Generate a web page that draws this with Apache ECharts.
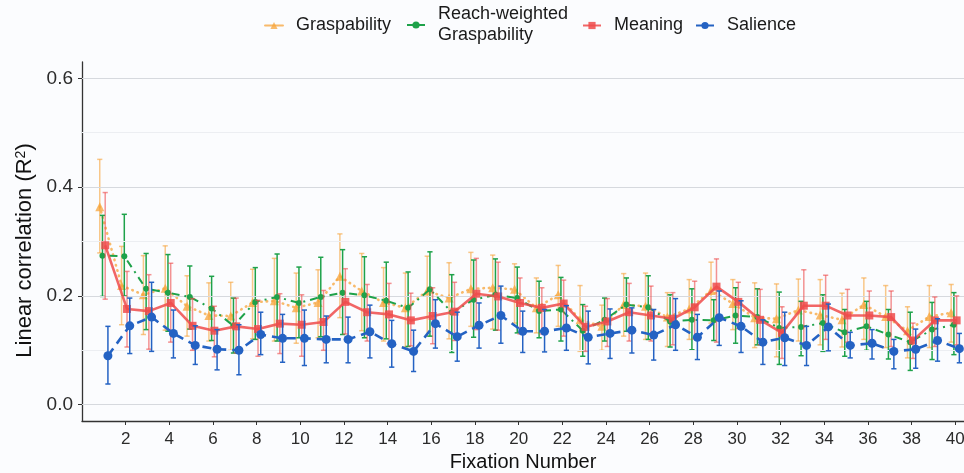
<!DOCTYPE html>
<html>
<head>
<meta charset="utf-8">
<script src="https://cdn.jsdelivr.net/npm/echarts@6/dist/echarts.min.js"></script>
<style>
  html, body { margin: 0; padding: 0; background: #fbfcfe; }
  #chart { width: 964px; height: 473px; }
</style>
</head>
<body>
<div id="chart"></div>
<script>
// Fixation index (x axis)
const fixation = [1,2,3,4,5,6,7,8,9,10,11,12,13,14,15,16,17,18,19,20,
                  21,22,23,24,25,26,27,28,29,30,31,32,33,34,35,36,37,38,39,40];

// Graspability: mean R² with lower / upper error bounds
const graspMean = [0.364,0.219,0.202,0.214,0.181,0.164,0.163,0.188,0.191,0.178,
                   0.188,0.236,0.209,0.188,0.178,0.209,0.196,0.213,0.215,0.212,
                   0.178,0.202,0.156,0.144,0.184,0.181,0.161,0.176,0.210,0.186,
                   0.160,0.158,0.174,0.165,0.156,0.184,0.162,0.136,0.162,0.169];
const graspLow  = [0.279,0.147,0.129,0.137,0.126,0.117,0.100,0.121,0.117,0.113,
                   0.123,0.160,0.136,0.117,0.106,0.126,0.121,0.144,0.139,0.150,
                   0.132,0.144,0.098,0.100,0.126,0.120,0.107,0.120,0.150,0.138,
                   0.105,0.088,0.117,0.110,0.106,0.120,0.105,0.086,0.105,0.115];
const graspHigh = [0.451,0.291,0.274,0.292,0.237,0.224,0.225,0.249,0.269,0.242,
                   0.248,0.314,0.278,0.252,0.242,0.273,0.261,0.280,0.275,0.259,
                   0.233,0.256,0.219,0.183,0.241,0.242,0.206,0.230,0.262,0.230,
                   0.224,0.222,0.231,0.230,0.205,0.233,0.219,0.180,0.219,0.221];

// Reach-weighted graspability
const reachMean = [0.274,0.273,0.213,0.206,0.198,0.177,0.145,0.189,0.198,0.187,
                   0.198,0.206,0.201,0.191,0.178,0.212,0.170,0.193,0.202,0.196,
                   0.172,0.175,0.136,0.156,0.184,0.179,0.153,0.156,0.155,0.164,
                   0.161,0.141,0.143,0.150,0.133,0.144,0.129,0.115,0.138,0.147];
const reachLow  = [0.199,0.200,0.138,0.135,0.139,0.118,0.095,0.120,0.117,0.123,
                   0.125,0.129,0.123,0.121,0.107,0.126,0.096,0.124,0.137,0.132,
                   0.123,0.117,0.089,0.117,0.135,0.120,0.106,0.101,0.118,0.113,
                   0.110,0.074,0.090,0.098,0.089,0.100,0.084,0.063,0.083,0.092];
const reachHigh = [0.348,0.350,0.278,0.276,0.255,0.236,0.196,0.252,0.277,0.253,
                   0.271,0.285,0.272,0.262,0.244,0.281,0.239,0.266,0.268,0.253,
                   0.227,0.234,0.184,0.196,0.233,0.237,0.202,0.213,0.193,0.215,
                   0.213,0.207,0.190,0.202,0.175,0.190,0.175,0.170,0.188,0.206];

// Meaning
const meaningMean = [0.293,0.176,0.172,0.187,0.145,0.136,0.144,0.139,0.149,0.147,
                     0.152,0.189,0.170,0.166,0.155,0.163,0.171,0.204,0.199,0.187,
                     0.178,0.186,0.143,0.153,0.170,0.164,0.158,0.179,0.217,0.189,
                     0.156,0.132,0.182,0.182,0.164,0.164,0.161,0.118,0.155,0.155];
const meaningLow  = [0.194,0.106,0.102,0.115,0.100,0.088,0.095,0.089,0.094,0.089,
                     0.100,0.130,0.117,0.112,0.108,0.112,0.118,0.138,0.137,0.130,
                     0.130,0.126,0.098,0.107,0.117,0.117,0.110,0.121,0.115,0.140,
                     0.110,0.085,0.113,0.120,0.115,0.115,0.107,0.085,0.107,0.110];
const meaningHigh = [0.390,0.245,0.239,0.260,0.195,0.181,0.196,0.192,0.204,0.202,
                     0.210,0.250,0.221,0.223,0.205,0.215,0.225,0.269,0.262,0.233,
                     0.215,0.229,0.181,0.195,0.223,0.218,0.206,0.227,0.268,0.225,
                     0.212,0.180,0.248,0.238,0.212,0.209,0.209,0.150,0.198,0.200];

// Salience
const salienceMean = [0.090,0.145,0.161,0.131,0.109,0.102,0.100,0.129,0.122,0.122,
                      0.120,0.120,0.134,0.112,0.098,0.149,0.125,0.146,0.164,0.135,
                      0.135,0.141,0.124,0.131,0.137,0.128,0.147,0.124,0.160,0.144,
                      0.115,0.123,0.109,0.143,0.109,0.113,0.098,0.102,0.118,0.103];
const salienceLow  = [0.038,0.094,0.098,0.086,0.074,0.064,0.055,0.092,0.078,0.072,
                      0.077,0.077,0.086,0.069,0.061,0.104,0.080,0.104,0.113,0.096,
                      0.097,0.100,0.075,0.085,0.095,0.082,0.100,0.083,0.109,0.096,
                      0.074,0.072,0.072,0.099,0.086,0.084,0.066,0.067,0.080,0.077];
const salienceHigh = [0.144,0.196,0.225,0.174,0.145,0.138,0.147,0.170,0.166,0.174,
                      0.163,0.161,0.183,0.155,0.137,0.193,0.170,0.187,0.218,0.172,
                      0.175,0.182,0.172,0.176,0.178,0.175,0.195,0.166,0.209,0.191,
                      0.156,0.170,0.144,0.185,0.133,0.138,0.120,0.139,0.158,0.131];

// Axis ticks and grid levels
const xTicks = [2,4,6,8,10,12,14,16,18,20,22,24,26,28,30,32,34,36,38,40];
const yTicks = [0, 0.2, 0.4, 0.6];
const yMinorGrid = [0.1, 0.3, 0.5];

const FONT = '"Liberation Sans", Arial, sans-serif';

// Style and dodge settings per measure
const measures = [
  { name: 'Graspability', mean: graspMean, low: graspLow, high: graspHigh,
    color: '#f7a43a', barColor: '#f7a43a', barOpacity: 0.6, offset: -0.1875,
    symbol: 'triangle', size: 9, lineType: [0.5, 5], lineWidth: 2.6, cap: 'round', lineOpacity: 0.75 },
  { name: 'Reach-weighted\nGraspability', mean: reachMean, low: reachLow, high: reachHigh,
    color: '#1ea24a', barColor: '#1ea24a', barOpacity: 1, offset: -0.0625,
    symbol: 'circle', size: 6, lineType: [2, 5, 8, 5], lineWidth: 2, cap: 'butt', lineOpacity: 1 },
  { name: 'Meaning', mean: meaningMean, low: meaningLow, high: meaningHigh,
    color: '#ee4b4b', barColor: '#ee4b4b', barOpacity: 0.6, offset: 0.0625,
    symbol: 'rect', size: 8, lineType: 'solid', lineWidth: 2.6, cap: 'butt', lineOpacity: 0.85 },
  { name: 'Salience', mean: salienceMean, low: salienceLow, high: salienceHigh,
    color: '#2462c3', barColor: '#2462c3', barOpacity: 1, offset: 0.1875,
    symbol: 'circle', size: 9, lineType: [9, 6], lineWidth: 2.6, cap: 'butt', lineOpacity: 1 }
];

function errorBars(m, z) {
  return {
    type: 'custom',
    name: m.name + ' interval',
    silent: true,
    z: z,
    animation: false,
    data: fixation.map((f, i) => [f + m.offset, m.low[i], m.high[i]]),
    encode: { x: 0, y: [1, 2] },
    renderItem(params, api) {
      const x = api.value(0);
      const top = api.coord([x, api.value(2)]);
      const bot = api.coord([x, api.value(1)]);
      const hw = 2.6;
      const style = { stroke: m.barColor, lineWidth: 1.5, opacity: m.barOpacity };
      return {
        type: 'group',
        children: [
          { type: 'line', shape: { x1: top[0], y1: top[1], x2: bot[0], y2: bot[1] }, style },
          { type: 'line', shape: { x1: top[0] - hw, y1: top[1], x2: top[0] + hw, y2: top[1] }, style },
          { type: 'line', shape: { x1: bot[0] - hw, y1: bot[1], x2: bot[0] + hw, y2: bot[1] }, style }
        ]
      };
    }
  };
}

function meanLine(m, z) {
  return {
    type: 'line',
    name: m.name,
    z: z,
    animation: false,
    silent: true,
    data: fixation.map((f, i) => [f + m.offset, m.mean[i]]),
    symbol: m.symbol,
    symbolSize: m.size,
    showSymbol: true,
    itemStyle: { color: m.color, opacity: m.lineOpacity },
    lineStyle: { color: m.color, width: m.lineWidth, type: m.lineType, cap: m.cap, opacity: m.lineOpacity }
  };
}

// Horizontal reference lines behind the data
const gridSeries = {
  type: 'line',
  name: 'grid',
  z: 1,
  silent: true,
  animation: false,
  data: [[1, 0]],
  showSymbol: false,
  lineStyle: { width: 0 },
  markLine: {
    silent: true,
    symbol: 'none',
    animation: false,
    label: { show: false },
    data: [
      ...yTicks.map(v => ({ yAxis: v, lineStyle: { color: '#d6d9de', width: 1.2, type: 'solid' } })),
      ...yMinorGrid.map(v => ({ yAxis: v, lineStyle: { color: '#eceef2', width: 1, type: 'solid' } }))
    ]
  }
};

const series = [gridSeries];
measures.forEach((m, k) => {
  series.push(errorBars(m, 2 + k * 2));
  series.push(meanLine(m, 3 + k * 2));
});

// One legend per entry so each sits where it should
const legendSpots = [
  { name: 'Graspability', left: 264, top: 15 },
  { name: 'Reach-weighted\nGraspability', left: 406, top: 4 },
  { name: 'Meaning', left: 582, top: 15 },
  { name: 'Salience', left: 695, top: 15 }
];
const legends = legendSpots.map(s => ({
  data: [s.name],
  left: s.left,
  top: s.top,
  padding: 0,
  itemWidth: 18,
  itemHeight: 9,
  selectedMode: false,
  lineStyle: { type: 'solid', width: 2 },
  textStyle: { fontFamily: FONT, fontSize: 18, color: '#1a1a1a', lineHeight: 21, padding: [0, 0, 0, 8] }
}));

const chart = echarts.init(document.getElementById('chart'), null, { renderer: 'canvas' });
chart.setOption({
  backgroundColor: '#fbfcfe',
  animation: false,
  legend: legends,
  grid: { left: 82, right: 0, top: 62, bottom: 52, containLabel: false, outerBoundsMode: 'none' },
  xAxis: {
    type: 'value',
    min: 0,
    max: 40.4,
    interval: 2,
    name: 'Fixation Number',
    nameLocation: 'middle',
    nameGap: 31,
    nameTextStyle: { fontFamily: FONT, fontSize: 20, color: '#111' },
    axisLine: { show: true, onZero: false, lineStyle: { color: '#333', width: 1.3 } },
    axisTick: { show: true, length: 4, customValues: xTicks, lineStyle: { color: '#333' } },
    axisLabel: { customValues: xTicks, fontFamily: FONT, fontSize: 17, color: '#2b2b2b', margin: 10 },
    splitLine: { show: false }
  },
  yAxis: {
    type: 'value',
    min: -0.03,
    max: 0.63,
    name: 'Linear correlation (R{sup|2})',
    nameLocation: 'middle',
    nameGap: 45,
    nameTextStyle: {
      fontFamily: FONT, fontSize: 22, color: '#111', padding: [0, 18, 0, 0],
      rich: { sup: { fontFamily: FONT, fontSize: 14, color: '#111', verticalAlign: 'top', lineHeight: 22 } }
    },
    axisLine: { show: true, onZero: false, lineStyle: { color: '#333', width: 1.3 } },
    axisTick: { show: true, length: 4, customValues: yTicks, lineStyle: { color: '#333' } },
    axisLabel: {
      customValues: yTicks, fontFamily: FONT, fontSize: 19, color: '#2b2b2b', margin: 9,
      formatter: v => Number(v).toFixed(1)
    },
    splitLine: { show: false }
  },
  series: series
});
</script>
</body>
</html>
